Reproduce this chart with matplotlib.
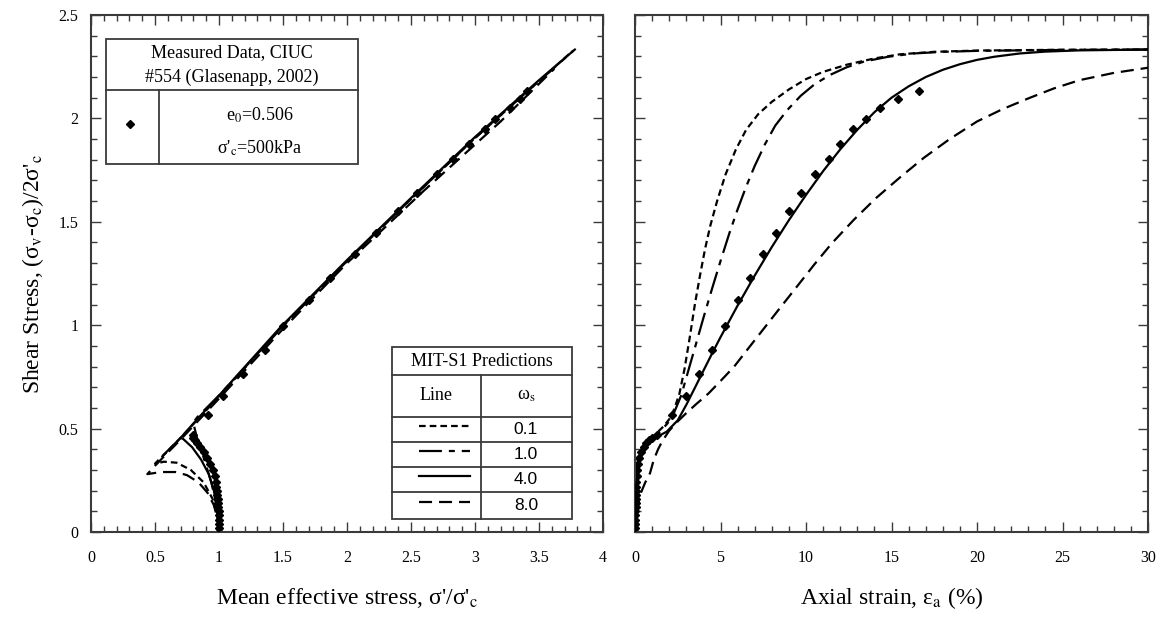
import matplotlib
matplotlib.use("Agg")
import matplotlib.pyplot as plt
from matplotlib.lines import Line2D
from matplotlib.patches import Rectangle
from matplotlib.ticker import MultipleLocator, FormatStrFormatter
from matplotlib.transforms import Affine2D

W, H = 1167, 626

plt.rcParams["font.family"] = ["Liberation Serif", "DejaVu Serif"]
plt.rcParams["mathtext.fontset"] = "stix"
plt.rcParams["lines.scale_dashes"] = False

# --- MIT-S1 predictions, one curve per omega_s -------------------------------
OMEGAS = ["0.1", "1.0", "4.0", "8.0"]

# effective stress paths: p'/sigma'_c vs shear stress
P_01 = [1.0, 0.985, 0.95, 0.88, 0.78, 0.67, 0.57, 0.50, 0.53, 0.565, 0.70,
        1.0, 1.48, 2.0, 2.5, 3.0, 3.5, 3.76]
Q_01 = [0.0, 0.08, 0.16, 0.24, 0.30, 0.335, 0.34, 0.33, 0.35, 0.37, 0.455,
        0.655, 0.985, 1.31, 1.61, 1.905, 2.18, 2.325]

P_10 = [1.0, 0.99, 0.97, 0.94, 0.90, 0.87, 0.83, 0.81, 0.80, 0.83, 1.0,
        1.5, 2.0, 2.5, 3.0, 3.5, 3.77]
Q_10 = [0.0, 0.08, 0.16, 0.24, 0.32, 0.38, 0.45, 0.50, 0.53, 0.555, 0.66,
        0.995, 1.31, 1.61, 1.905, 2.18, 2.328]

P_40 = [0.565, 0.70, 0.72, 0.79, 0.86, 0.92, 0.96, 0.99, 1.0]
Q_40 = [0.372, 0.455, 0.45, 0.41, 0.35, 0.28, 0.20, 0.10, 0.0]
P_40_UP = [0.70, 0.80, 1.0, 1.48, 2.0, 2.5, 3.0, 3.5, 3.78]
Q_40_UP = [0.455, 0.525, 0.66, 0.99, 1.315, 1.615, 1.91, 2.185, 2.333]

P_80 = [1.0, 0.99, 0.96, 0.91, 0.84, 0.75, 0.66, 0.55, 0.44, 0.50, 0.565,
        0.70, 1.0, 1.5, 2.0, 2.6, 3.2, 3.62]
Q_80 = [0.0, 0.06, 0.13, 0.19, 0.24, 0.275, 0.29, 0.29, 0.28, 0.32, 0.362,
        0.447, 0.645, 0.982, 1.30, 1.65, 1.985, 2.24]

# stress-strain: axial strain (%) vs shear stress
E_01 = [0, 0.05, 0.15, 0.35, 0.7, 1.1, 1.66, 2.0, 2.3, 2.6, 2.9, 3.2, 3.5,
        3.8, 4.1, 4.4, 4.8, 5.3, 5.9, 6.5, 7.2, 8.0, 9.0, 10.0, 11.0, 12.4,
        14.0, 15.5, 17.5, 20.0, 25.0, 30.0]
T_01 = [0, 0.15, 0.28, 0.37, 0.43, 0.465, 0.51, 0.545, 0.595, 0.67, 0.79,
        0.94, 1.10, 1.24, 1.37, 1.48, 1.60, 1.73, 1.85, 1.945, 2.02, 2.08,
        2.14, 2.19, 2.225, 2.26, 2.29, 2.31, 2.322, 2.328, 2.332, 2.333]

E_10 = [0, 0.05, 0.2, 0.5, 0.9, 1.4, 1.9, 2.3, 2.7, 3.1, 3.5, 4.0, 4.5,
        5.0, 5.5, 6.0, 6.5, 7.0, 7.6, 8.2, 8.9, 9.7, 10.5, 11.4, 12.4, 13.4,
        14.8, 16.3, 18.0, 20.2, 25.0, 30.0]
T_10 = [0, 0.2, 0.33, 0.41, 0.45, 0.48, 0.525, 0.58, 0.66, 0.775, 0.89,
        1.035, 1.175, 1.31, 1.44, 1.56, 1.67, 1.77, 1.875, 1.965, 2.04,
        2.11, 2.165, 2.21, 2.248, 2.275, 2.298, 2.314, 2.322, 2.327, 2.331,
        2.333]

E_40 = [0, 0.05, 0.2, 0.5, 0.9, 1.4, 1.85, 2.5, 3.0, 3.5, 4.0, 4.5, 5.0,
        6.0, 7.0, 8.0, 9.0, 10.0, 11.0, 12.0, 13.0, 14.0, 15.0, 16.0, 17.0,
        18.0, 19.0, 20.0, 21.0, 22.5, 24.0, 26.0, 30.0]
T_40 = [0, 0.18, 0.32, 0.40, 0.44, 0.465, 0.485, 0.54, 0.615, 0.697, 0.78,
        0.862, 0.942, 1.095, 1.24, 1.378, 1.508, 1.63, 1.745, 1.85, 1.945,
        2.03, 2.10, 2.155, 2.20, 2.235, 2.262, 2.283, 2.298, 2.314, 2.323,
        2.329, 2.333]

E_80 = [0, 0.1, 0.3, 0.6, 0.88, 1.1, 1.35, 1.6, 2.0, 2.5, 3.0, 3.6, 4.3,
        5.0, 5.8, 6.6, 7.5, 8.4, 9.5, 10.5, 11.5, 12.8, 14.1, 15.5, 16.9,
        18.4, 20.0, 21.5, 23.1, 24.5, 26.0, 28.0, 30.0]
T_80 = [0, 0.10, 0.18, 0.24, 0.285, 0.35, 0.40, 0.44, 0.49, 0.535, 0.575,
        0.62, 0.67, 0.73, 0.80, 0.885, 0.98, 1.075, 1.19, 1.295, 1.395, 1.51,
        1.615, 1.715, 1.81, 1.90, 1.985, 2.045, 2.10, 2.145, 2.185, 2.22,
        2.245]

# --- measured data, CIUC #554 ------------------------------------------------
MEAS_EPS = [0, 0.005, 0.01, 0.015, 0.02, 0.025, 0.03, 0.035, 0.04, 0.05,
            0.06, 0.07, 0.08, 0.1, 0.13, 0.18, 0.25, 0.35, 0.5, 0.65, 0.8,
            1.0, 1.27, 2.14, 2.96, 3.74, 4.48, 5.26, 6.04, 6.73, 7.5, 8.23,
            9.0, 9.71, 10.53, 11.35, 11.99, 12.77, 13.51, 14.33, 15.36,
            16.63]
MEAS_Q = [0, 0.02, 0.04, 0.06, 0.08, 0.10, 0.12, 0.14, 0.16, 0.18, 0.20,
          0.22, 0.24, 0.27, 0.30, 0.33, 0.36, 0.385, 0.41, 0.43, 0.445,
          0.455, 0.469, 0.565, 0.657, 0.763, 0.882, 0.997, 1.12, 1.229,
          1.346, 1.448, 1.551, 1.639, 1.729, 1.805, 1.874, 1.947, 1.995,
          2.052, 2.095, 2.132]
MEAS_P = [1.0, 1.0, 1.0, 1.0, 0.998, 0.997, 0.995, 0.993, 0.99, 0.987,
          0.984, 0.98, 0.975, 0.965, 0.95, 0.93, 0.905, 0.88, 0.855, 0.83,
          0.81, 0.80, 0.80, 0.915, 1.03, 1.19, 1.36, 1.50, 1.70, 1.87,
          2.06, 2.23, 2.40, 2.55, 2.70, 2.83, 2.95, 3.08, 3.16, 3.27,
          3.35, 3.41]

PATHS = {"0.1": [(P_01, Q_01)], "1.0": [(P_10, Q_10)],
         "4.0": [(P_40, Q_40), (P_40_UP, Q_40_UP)], "8.0": [(P_80, Q_80)]}
CURVES = {"0.1": (E_01, T_01), "1.0": (E_10, T_10),
          "4.0": (E_40, T_40), "8.0": (E_80, T_80)}
DASHES = {"0.1": (0, (4.8, 2.9)), "1.0": (0, (16.5, 5.0, 4.3, 5.0)),
          "4.0": "-", "8.0": (0, (9.4, 5.0))}
LW = 1.6
SPINE = "#3a3a3a"

fig = plt.figure(figsize=(W / 100, H / 100), dpi=100)
ax1 = fig.add_axes([91 / W, 1 - 532 / H, 512 / W, 517 / H])
ax2 = fig.add_axes([635 / W, 1 - 532 / H, 513 / W, 517 / H])

for om in OMEGAS:
    for p, q in PATHS[om]:
        ax1.plot(p, q, color="black", lw=LW, linestyle=DASHES[om], zorder=3)
    e, t = CURVES[om]
    ax2.plot(e, t, color="black", lw=LW, linestyle=DASHES[om], zorder=3)

ax1.plot(MEAS_P, MEAS_Q, linestyle="none", marker="D", ms=4.5,
         color="black", zorder=2)
ax2.plot(MEAS_EPS, MEAS_Q, linestyle="none", marker="D", ms=4.5,
         color="black", zorder=2)

ax1.set_xlim(0, 4)
ax2.set_xlim(0, 30)
for ax in (ax1, ax2):
    ax.set_ylim(0, 2.5)
    ax.yaxis.set_major_locator(MultipleLocator(0.5))
    ax.yaxis.set_minor_locator(MultipleLocator(0.1))
    ax.yaxis.set_major_formatter(FormatStrFormatter("%g"))
    ax.xaxis.set_major_formatter(FormatStrFormatter("%g"))
    ax.tick_params(which="both", direction="in", top=True, right=True,
                   color=SPINE, width=1.0)
    ax.tick_params(which="major", length=7, labelsize=11.5, pad=13)
    ax.tick_params(which="minor", length=4)
    for s in ax.spines.values():
        s.set_color(SPINE)
        s.set_linewidth(1.5)

ax1.xaxis.set_major_locator(MultipleLocator(0.5))
ax1.xaxis.set_minor_locator(MultipleLocator(0.1))
ax1.tick_params(axis="y", pad=9)
ax2.xaxis.set_major_locator(MultipleLocator(5))
ax2.xaxis.set_minor_locator(MultipleLocator(1))
ax2.tick_params(axis="y", labelleft=False)

ax1.set_xlabel("Mean effective stress, σ'/σ'$_{\\mathrm{c}}$", fontsize=17,
               labelpad=14)
ax1.set_ylabel("Shear Stress, (σ$_{\\mathrm{v}}$-σ$_{\\mathrm{c}}$)/2σ'$_{\\mathrm{c}}$",
               fontsize=17, labelpad=9)
ax2.set_xlabel("Axial strain, ε$_{\\mathrm{a}}$ (%)", fontsize=17, labelpad=14)

# legend tables, laid out in pixel units (y down)
T = Affine2D().scale(1 / W, -1 / H).translate(0, 1) + fig.transFigure


def seg(x0, y0, x1, y1):
    fig.add_artist(Line2D([x0, x1], [y0, y1], transform=T, color=SPINE,
                          lw=1.3, zorder=5))


def box(x0, y0, x1, y1):
    fig.add_artist(Rectangle((x0, y0), x1 - x0, y1 - y0, transform=T,
                             fill=True, fc="white", ec=SPINE, lw=1.3,
                             zorder=4))


def txt(x, y, s, **kw):
    kw.setdefault("fontsize", 13)
    fig.text(x, y, s, transform=T, ha="center", va="center", zorder=6, **kw)


# measured data table
box(106, 39, 358, 164)
seg(106, 90, 358, 90)
seg(159, 90, 159, 164)
txt(232, 53, "Measured Data, CIUC")
txt(232, 77, "#554 (Glasenapp, 2002)")
fig.add_artist(Line2D([130], [124], transform=T, marker="D", ms=4.5,
                      color="black", linestyle="none", zorder=6))
txt(260, 115, "e$_{0}$=0.506")
txt(260, 148, "σ'$_{\\mathrm{c}}$=500kPa")

# model legend table
ROWS = [417, 442, 467, 492, 519]
box(392, 347, 572, 519)
seg(392, 375, 572, 375)
seg(481, 375, 481, 519)
for y in ROWS[:-1]:
    seg(392, y, 572, y)
txt(482, 361, "MIT-S1 Predictions")
txt(436, 396, "Line")
txt(526, 396, "ω$_{\\mathrm{s}}$")
for i, om in enumerate(OMEGAS):
    yc = (ROWS[i] + ROWS[i + 1]) / 2
    fig.add_artist(Line2D([419, 470], [yc - 4, yc - 4], transform=T,
                          color="black", lw=LW, linestyle=DASHES[om],
                          zorder=6))
    txt(526, yc, om, family="Liberation Sans", fontsize=12.5)

fig.savefig("out.png", dpi=100)
